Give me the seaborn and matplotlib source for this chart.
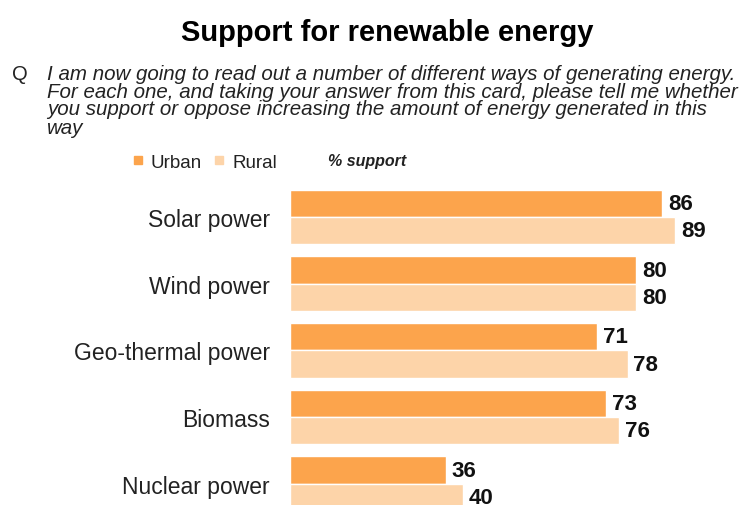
import matplotlib
matplotlib.use("Agg")
import matplotlib.pyplot as plt
from matplotlib.lines import Line2D
import seaborn as sns
import pandas as pd

categories = ["Solar power", "Wind power", "Geo-thermal power", "Biomass", "Nuclear power"]
urban = [86, 80, 71, 73, 36]
rural = [89, 80, 78, 76, 40]
series = ["Urban", "Rural"]
colors = ["#FCA44C", "#FDD4A9"]

title = "Support for renewable energy"
question = [
    "I am now going to read out a number of different ways of generating energy.",
    "For each one, and taking your answer from this card, please tell me whether",
    "you support or oppose increasing the amount of energy generated in this",
    "way",
]
unit_label = "% support"

df = pd.DataFrame({
    "source": categories * 2,
    "group": [series[0]] * len(urban) + [series[1]] * len(rural),
    "support": urban + rural,
})

sns.set_theme(style="white")
plt.rcParams['font.family'] = ['Liberation Sans', 'DejaVu Sans']

W, H = 743, 506
fig = plt.figure(figsize=(W / 100, H / 100), dpi=100)
fig.patch.set_facecolor("white")

ax = fig.add_axes([290 / W, 0, 433 / W, 326 / H])
sns.barplot(data=df, y="source", x="support", hue="group", order=categories,
            hue_order=series, palette=colors, orient="h", width=0.82,
            edgecolor="white", linewidth=1.0, ax=ax, legend=False, saturation=1)
ax.set_xlim(0, 100)
ax.set_ylim(4.318, -0.57)
for s in ax.spines.values():
    s.set_visible(False)
ax.xaxis.set_visible(False)
ax.set_ylabel("")
ax.set_xlabel("")
ax.tick_params(axis="y", length=0, pad=14.4, labelsize=16.5, labelcolor="#222222")

for cont in ax.containers:
    ax.bar_label(cont, padding=4, fontsize=16, fontweight="bold", color="#111111")

fig.text(387 / W, 1 - 33 / H, title, ha="center", va="center", fontsize=21,
         fontweight="bold", color="#000000")
fig.text(12 / W, 1 - 74 / H, "Q", ha="left", va="center", fontsize=14.5, color="#222222")
for i, line in enumerate(question):
    fig.text(47 / W, 1 - (74 + 18 * i) / H, line, ha="left", va="center",
             fontsize=14.8, fontstyle="italic", color="#222222")

handles = [Line2D([0], [0], marker="s", linestyle="none", markersize=5.5,
                  markerfacecolor=c, markeredgecolor=c) for c in colors]
fig.legend(handles, series, loc="center left", bbox_to_anchor=(132 / W, 1 - 163 / H),
           ncol=2, frameon=False, fontsize=13.5, handlelength=0.6, handletextpad=0.4,
           columnspacing=0.6, borderaxespad=0, borderpad=0, labelcolor="#222222")
fig.text(328 / W, 1 - 162 / H, unit_label, ha="left", va="center", fontsize=11.5,
         fontstyle="italic", fontweight="bold", color="#222222")

fig.savefig("out.png", dpi=100)
